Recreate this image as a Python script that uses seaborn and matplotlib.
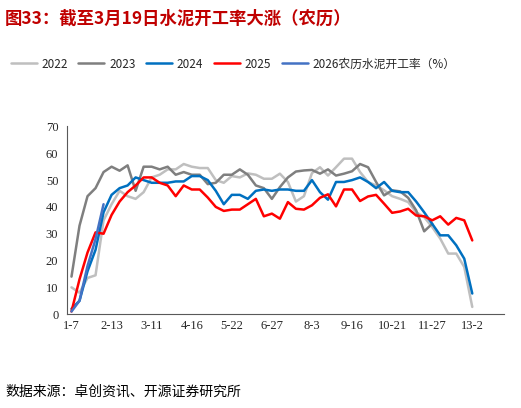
import numpy as np
import pandas as pd
import seaborn as sns
import matplotlib.pyplot as plt
from matplotlib.lines import Line2D

nan = np.nan
tick_labels = ["1-7","2-13","3-11","4-16","5-22","6-27","8-3","9-16","10-21","11-27","13-2"]
y2022 = [10,8,13.5,14.5,35,41,46,44,43,45.5,51,52,54,54,56,55,54.5,54.5,50,49,51.5,51,52.5,52,50.5,
         50.5,52.4,49.3,42,44,52.6,54.8,51.7,54.8,58,58,53,49.3,48,46.2,44,43,41.8,38,36.2,32.5,28.2,22.6,22.6,17.6,2.7]
y2023 = [14,33,44,47,53,55,53.5,55.5,46,55,55,54,55,52,53,52,52,48.5,49,52,52,54,52,48,47,
         43,47.4,51,53.2,53.6,53.8,52.4,54,51.7,52.4,53.3,56,54.8,49.3,44.3,46.2,45.8,43.4,38.7,30.9,33.7,nan,nan,nan,nan,nan]
y2024 = [2,5,16,24,38,44.5,47,48,51,50,49,49,49,49.5,49.5,51.5,51.5,50,46,41,44.5,44.5,43,46,46.5,
         46,46.5,46.5,46,46,50,45.5,42.7,49.3,49.3,50,51,49.3,47,49.3,46,45.5,45.5,42,38,33.7,29.4,29.4,25.7,20.7,7.7]
y2025 = [1,13,23,30.5,30,37,42,45.5,48,51,51,49,48,44,48,46.5,46.5,43.5,40,38.5,39,39,41,43,36.5,
         37.5,35.6,41.8,39.3,39,40.6,43.4,44.7,40.2,46.5,46.5,42.2,43.9,44.5,41.2,37.8,38.3,39.3,36.8,36.5,35,36.5,33.4,35.9,35,27.5]
y2026 = [1,5,18,28,41] + [nan]*46

series = {"2022": y2022, "2023": y2023, "2024": y2024, "2025": y2025, "2026农历水泥开工率（%）": y2026}
colors = {"2022": "#BFBFBF", "2023": "#7F7F7F", "2024": "#0070C0", "2025": "#FF0000",
          "2026农历水泥开工率（%）": "#4472C4"}

rows = []
for k, v in series.items():
    for i, val in enumerate(v):
        rows.append({"idx": i, "val": val, "year": k})
df = pd.DataFrame(rows)

sns.set_theme(style="white")
plt.rcParams['font.family'] = ['Noto Sans CJK SC', 'DejaVu Sans']

fig = plt.figure(figsize=(5.21, 4.08), dpi=100)
ax = fig.add_axes([0.128, 0.23, 0.84, 0.46])
sns.lineplot(data=df, x="idx", y="val", hue="year", palette=colors, ax=ax, linewidth=1.8,
             legend=False, hue_order=list(series.keys()))
ax.set_xlim(-0.6, 54)
ax.set_ylim(0, 70)
ax.set_yticks(range(0, 71, 10))
ax.set_xticks(range(0, 51, 5))
ax.set_xticklabels(tick_labels, family='Liberation Serif', fontsize=9)
for t in ax.get_yticklabels():
    t.set_family('Liberation Serif'); t.set_fontsize(9)
ax.set_xlabel(""); ax.set_ylabel("")
for s in ["top", "right"]:
    ax.spines[s].set_visible(False)
for s in ["left", "bottom"]:
    ax.spines[s].set_color("#595959"); ax.spines[s].set_linewidth(0.8)
ax.tick_params(axis='x', direction='in', length=4, color="#595959", pad=4)
ax.tick_params(axis='y', length=0, pad=6)

handles = [Line2D([], [], color=colors[k], lw=1.8) for k in series]
fig.legend(handles, list(series.keys()), loc='upper left', bbox_to_anchor=(0.0, 0.885), ncol=5,
           frameon=False, fontsize=8.5, handlelength=2.2, columnspacing=0.9, handletextpad=0.4)

fig.text(0.01, 0.955, "图33：截至3月19日水泥开工率大涨（农历）", color="#C00000", fontsize=12.5,
         fontweight='bold', va='center')
fig.text(0.01, 0.04, "数据来源：卓创资讯、开源证券研究所", fontsize=10, va='center', color="#000000")
fig.savefig("out.png", dpi=100)
